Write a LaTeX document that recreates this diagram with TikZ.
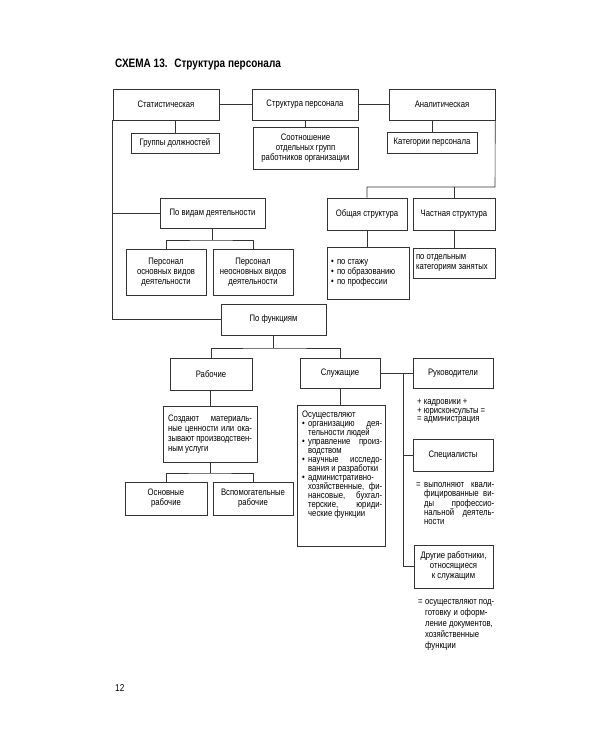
\documentclass[tikz,border=0pt]{standalone}
\usepackage{fontspec}
\setmainfont{Liberation Sans}[FakeStretch=0.82]
\hyphenpenalty=10000
\exhyphenpenalty=10000
\newcommand\yacheyka{\fontsize{9.4}{10}\selectfont}
\newcommand\punkt[1]{\par\hangindent=6pt\hangafter=1\makebox[6pt][l]{\textbullet}#1}

\begin{document}
\begin{tikzpicture}[x=1pt, y=-1pt, black!80,
  blok/.style={draw, line width=0.6pt, inner sep=0pt, align=center, text=black, font=\yacheyka},
  svyaz/.style={line width=0.6pt},
  tekst/.style={inner sep=0pt, anchor=base west, text=black}]
  \useasboundingbox[fill=white] (0,0) rectangle (600,750);
  \node[tekst, font=\fontsize{12.2}{14}\selectfont\bfseries] (zag) at (115,67.5)
    {СХЕМА 13.\hspace{0.55em}Структура персонала};

  \node[blok, minimum width=106, minimum height=31] (stat) at (166,104.5) {Статистическая};
  \node[blok, minimum width=106, minimum height=31] (struk) at (305,104.5) {Структура персонала};
  \node[blok, minimum width=106, minimum height=31] (analit) at (442,104.5) {Аналитическая};
  \node[blok, minimum width=88, minimum height=20] (gruppy) at (175,143) {Группы должностей};
  \node[blok, minimum width=105, minimum height=42] (sootn) at (305.5,148)
    {Соотношение\\отдельных групп\\работников организации};
  \node[blok, minimum width=90, minimum height=21] (kateg) at (432,142.5) {Категории персонала};

  \node[blok, minimum width=105, minimum height=30] (vidy) at (212.5,213) {По видам деятельности};
  \node[blok, minimum width=80, minimum height=32] (obshch) at (367,214) {Общая структура};
  \node[blok, minimum width=82, minimum height=32] (chastn) at (454,214) {Частная структура};
  \node[blok, minimum width=82, minimum height=52, text width=74, align=left] (spisok) at (368,273)
    {\spaceskip=0pt\makebox[6pt][l]{\textbullet}по стажу\\\makebox[6pt][l]{\textbullet}по образованию\\\makebox[6pt][l]{\textbullet}по профессии};
  \node[blok, minimum width=82, minimum height=30, text width=76, align=left] (otdel) at (454,263)
    {\spaceskip=0pt по отдельным\\категориям занятых};
  \node[blok, minimum width=80, minimum height=46] (osnvid) at (166,272) {Персонал\\основных видов\\деятельности};
  \node[blok, minimum width=80, minimum height=46] (neosnvid) at (253,272) {Персонал\\неосновных видов\\деятельности};

  \node[blok, minimum width=105, minimum height=31] (funkc) at (273.5,319.5) {По функциям};
  \node[blok, minimum width=82, minimum height=32] (rabochie) at (211,374) {Рабочие};
  \node[blok, minimum width=80, minimum height=30] (sluzh) at (340,373) {Служащие};
  \node[blok, minimum width=80, minimum height=30] (rukov) at (453,373) {Руководители};
  \node[blok, minimum width=94, minimum height=56, text width=84, align=justify] (sozd) at (210,434)
    {Создают~материаль-\linebreak ные~ценности~или~ока-\linebreak зывают~производствен-\linebreak ным~услуги};
  \node[blok, minimum width=82, minimum height=33] (osnrab) at (166,498.5) {Основные\\рабочие};
  \node[blok, minimum width=80, minimum height=33] (vspom) at (253,498.5) {Вспомогательные\\рабочие};
  \node[blok, minimum width=88, minimum height=141, anchor=north west] (osush) at (297,405) {};
  \node[tekst, text width=80, align=justify, font=\fontsize{9.4}{9}\selectfont] (osushtxt) at (302,417.5)
    {Осуществляют
     \punkt{организацию~дея-\linebreak тельности~людей}
     \punkt{управление~произ-\linebreak водством}
     \punkt{научные~исследо-\linebreak вания~и~разработки}
     \punkt{административно-\linebreak хозяйственные,~фи-\linebreak нансовые,~бухгал-\linebreak терские,~юриди-\linebreak ческие~функции}\par};
  \node[blok, minimum width=80, minimum height=32] (spec) at (453,455) {Специалисты};
  \node[blok, minimum width=79, minimum height=43] (drugie) at (453.5,566.5)
    {Другие работники,\\относящиеся\\к служащим};

  \node[tekst, text width=80, align=left, font=\fontsize{9.4}{8.6}\selectfont] (kadry) at (417,404.5)
    {\spaceskip=0pt + кадровики +\\+ юрисконсульты =\\= администрация};
  \node[tekst, text width=78, align=justify, font=\fontsize{9.4}{9.3}\selectfont] (vypoln) at (416,487.5)
    {\hangindent=8pt\hangafter=1\makebox[8pt][l]{=}выполняют~квали-\linebreak фицированные~ви-\linebreak ды~профессио-\linebreak нальной~деятель-\linebreak ности\par};
  \node[tekst, text width=76, align=left, font=\fontsize{9.4}{11}\selectfont] (dokum) at (418,604.5)
    {\spaceskip=0pt\hangindent=7pt\hangafter=1\makebox[7pt][l]{=}осуществляют~под-\linebreak готовку~и~оформ-\linebreak ление~документов,\linebreak хозяйственные\linebreak функции\par};
  \node[tekst, font=\fontsize{10}{11}\selectfont] (stranica) at (115,691.5) {12};

  \draw[svyaz] (stat) -- (struk);
  \draw[svyaz] (struk) -- (analit);
  \draw[svyaz] (gruppy.north) -- (gruppy.north |- stat.south);
  \draw[svyaz] (sootn.north) -- (sootn.north |- struk.south);
  \draw[svyaz] (kateg.north) -- (kateg.north |- analit.south);
  \draw[svyaz] (stat.south west) |- (funkc.west);
  \draw[svyaz] (stat.south west |- vidy.west) -- (vidy.west);
  \coordinate (pravo) at (495,187);
  \draw[svyaz] (analit.south east) -- (pravo) -| (obshch.north);
  \draw[svyaz] (chastn.north) -- (chastn.north |- pravo);
  \draw[svyaz] (obshch.south) -- (obshch.south |- spisok.north);
  \draw[svyaz] (chastn.south) -- (otdel.north);
  \coordinate (vidyuzel) at (212.5,240);
  \draw[svyaz] (vidy.south) -- (vidyuzel);
  \draw[svyaz] (osnvid.north) |- (vidyuzel) -| (neosnvid.north);
  \coordinate (funkuzel) at (273.5,348);
  \draw[svyaz] (funkc.south) -- (funkuzel);
  \draw[svyaz] (rabochie.north) |- (funkuzel) -| (sluzh.north);
  \draw[svyaz] (sozd.north) -- (sozd.north |- rabochie.south);
  \coordinate (sozduzel) at (210,473);
  \draw[svyaz] (sozd.south) -- (sozduzel);
  \draw[svyaz] (osnrab.north) |- (sozduzel) -| (vspom.north);
  \draw[svyaz] (sluzh.south) -- (sluzh.south |- osush.north);
  \draw[svyaz] (sluzh.east) -- (rukov.west);
  \coordinate (shina) at (403,373);
  \draw[svyaz] (shina) |- (drugie.west);
  \draw[svyaz] (shina |- spec.west) -- (spec.west);
\end{tikzpicture}
\end{document}
